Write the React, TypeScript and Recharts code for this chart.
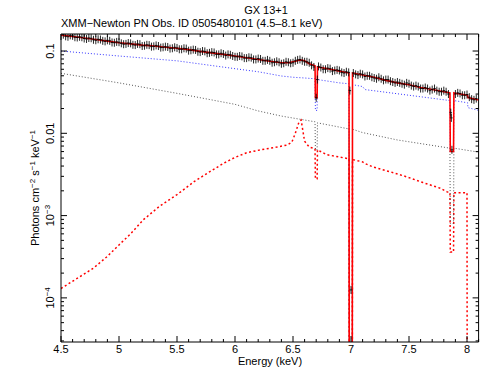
import React from "react";
import { ComposedChart, Line, Scatter, XAxis, YAxis } from "recharts";

const FONT = '"Liberation Sans", Arial, Helvetica, sans-serif';

const X_DOMAIN: [number, number] = [4.5, 8.1];
const Y_DOMAIN: [number, number] = [2.91e-5, 0.161];

// axis ticks
const xMajor = [4.5, 5, 5.5, 6, 6.5, 7, 7.5, 8];
const xLabels = ["4.5", "5", "5.5", "6", "6.5", "7", "7.5", "8"];
const xMinor = [
  4.6, 4.7, 4.8, 4.9, 5.1, 5.2, 5.3, 5.4, 5.6, 5.7, 5.8, 5.9, 6.1, 6.2, 6.3, 6.4,
  6.6, 6.7, 6.8, 6.9, 7.1, 7.2, 7.3, 7.4, 7.6, 7.7, 7.8, 7.9, 8.1,
];
const yMajor = [1e-4, 1e-3, 0.01, 0.1];
const yLabels = [["10", "−4"], ["10", "−3"], ["0.01"], ["0.1"]];
const yMinor = [
  3e-5, 4e-5, 5e-5, 6e-5, 7e-5, 8e-5, 9e-5,
  2e-4, 3e-4, 4e-4, 5e-4, 6e-4, 7e-4, 8e-4, 9e-4,
  2e-3, 3e-3, 4e-3, 5e-3, 6e-3, 7e-3, 8e-3, 9e-3,
  0.02, 0.03, 0.04, 0.05, 0.06, 0.07, 0.08, 0.09,
];

// measured spectrum (keV, photons cm^-2 s^-1 keV^-1)
const spectrum: [number, number][] = [
  [4.52, 0.158], [4.54, 0.151], [4.56, 0.149], [4.58, 0.155], [4.6, 0.153], [4.62, 0.147],
  [4.64, 0.146], [4.66, 0.149], [4.68, 0.147], [4.7, 0.142], [4.72, 0.14], [4.74, 0.144],
  [4.76, 0.143], [4.78, 0.137], [4.8, 0.135], [4.82, 0.139], [4.84, 0.138], [4.86, 0.133],
  [4.88, 0.131], [4.9, 0.135], [4.92, 0.133], [4.94, 0.127], [4.96, 0.126], [4.98, 0.129],
  [5.0, 0.128], [5.02, 0.124], [5.04, 0.121], [5.06, 0.122], [5.08, 0.125], [5.1, 0.124],
  [5.12, 0.119], [5.14, 0.118], [5.16, 0.122], [5.18, 0.121], [5.2, 0.115], [5.22, 0.116],
  [5.24, 0.119], [5.26, 0.118], [5.28, 0.113], [5.3, 0.114], [5.32, 0.117], [5.34, 0.115],
  [5.36, 0.11], [5.38, 0.111], [5.4, 0.113], [5.42, 0.112], [5.44, 0.107], [5.46, 0.108],
  [5.48, 0.111], [5.5, 0.109], [5.52, 0.105], [5.54, 0.105], [5.56, 0.108], [5.58, 0.107],
  [5.6, 0.101], [5.62, 0.102], [5.64, 0.104], [5.66, 0.103], [5.68, 0.098], [5.7, 0.097],
  [5.72, 0.1], [5.74, 0.099], [5.76, 0.094], [5.78, 0.095], [5.8, 0.097], [5.82, 0.096],
  [5.84, 0.091], [5.86, 0.091], [5.88, 0.094], [5.9, 0.092], [5.92, 0.088], [5.94, 0.091],
  [5.96, 0.09], [5.98, 0.087], [6.0, 0.085], [6.02, 0.085], [6.04, 0.087], [6.06, 0.086],
  [6.08, 0.082], [6.1, 0.082], [6.12, 0.084], [6.14, 0.083], [6.16, 0.079], [6.18, 0.079],
  [6.2, 0.081], [6.22, 0.08], [6.24, 0.076], [6.26, 0.076], [6.28, 0.078], [6.3, 0.076],
  [6.32, 0.072], [6.34, 0.073], [6.36, 0.075], [6.38, 0.073], [6.4, 0.07], [6.42, 0.071],
  [6.44, 0.074], [6.46, 0.073], [6.48, 0.071], [6.5, 0.072], [6.52, 0.076], [6.54, 0.078],
  [6.56, 0.079], [6.58, 0.076], [6.6, 0.074], [6.62, 0.074], [6.64, 0.072], [6.66, 0.067],
  [6.68, 0.064], [6.7, 0.027], [6.71, 0.045], [6.72, 0.065], [6.74, 0.063], [6.76, 0.06],
  [6.78, 0.06], [6.8, 0.062], [6.82, 0.061], [6.84, 0.057], [6.86, 0.058], [6.88, 0.059],
  [6.9, 0.058], [6.92, 0.055], [6.94, 0.054], [6.96, 0.056], [6.98, 0.055], [6.99, 0.033],
  [7.0, 1.25e-4], [7.02, 0.054], [7.04, 0.052], [7.06, 0.051], [7.08, 0.053], [7.1, 0.052],
  [7.12, 0.049], [7.14, 0.05], [7.16, 0.05], [7.18, 0.048], [7.2, 0.047], [7.22, 0.046],
  [7.24, 0.048], [7.26, 0.046], [7.28, 0.044], [7.3, 0.045], [7.32, 0.045], [7.34, 0.043],
  [7.36, 0.042], [7.38, 0.041], [7.4, 0.042], [7.42, 0.041], [7.44, 0.04], [7.46, 0.039],
  [7.48, 0.041], [7.5, 0.04], [7.52, 0.038], [7.54, 0.037], [7.56, 0.038], [7.58, 0.037],
  [7.6, 0.035], [7.62, 0.035], [7.64, 0.036], [7.66, 0.035], [7.68, 0.033], [7.7, 0.034],
  [7.72, 0.035], [7.74, 0.033], [7.76, 0.032], [7.78, 0.032], [7.8, 0.033], [7.82, 0.032],
  [7.84, 0.03], [7.86, 0.0178], [7.865, 0.0154], [7.87, 0.0063], [7.9, 0.03], [7.92, 0.031],
  [7.94, 0.0305], [7.96, 0.029], [7.98, 0.029], [8.0, 0.0296], [8.02, 0.0275], [8.04, 0.026],
  [8.06, 0.0255], [8.08, 0.0264],
];

// total model
const modelTotal: [number, number][] = [
  [4.5, 0.156], [4.6, 0.15], [4.7, 0.144], [4.8, 0.138], [4.9, 0.132], [5.0, 0.126],
  [5.1, 0.122], [5.2, 0.118], [5.3, 0.115], [5.4, 0.111], [5.5, 0.108], [5.6, 0.104],
  [5.7, 0.099], [5.8, 0.095], [5.9, 0.091], [6.0, 0.087], [6.1, 0.083], [6.2, 0.079],
  [6.3, 0.075], [6.4, 0.072], [6.46, 0.072], [6.52, 0.075], [6.56, 0.078], [6.6, 0.076],
  [6.64, 0.07], [6.69, 0.066], [6.693, 0.027], [6.708, 0.027], [6.711, 0.064], [6.8, 0.061],
  [6.9, 0.057], [6.983, 0.054], [6.986, 1e-7], [7.01, 1e-7], [7.013, 0.054], [7.1, 0.051],
  [7.2, 0.048], [7.3, 0.044], [7.4, 0.041], [7.5, 0.039], [7.6, 0.036], [7.7, 0.034],
  [7.8, 0.032], [7.853, 0.031], [7.856, 0.006], [7.884, 0.006], [7.887, 0.031], [7.9, 0.0306],
  [8.005, 0.029], [8.008, 0.0272], [8.1, 0.0254],
];

// model components
const compBlue: [number, number][] = [
  [4.5, 0.1], [5.0, 0.087], [5.5, 0.076], [6.0, 0.061], [6.2, 0.056], [6.4, 0.0497],
  [6.5, 0.048], [6.6, 0.047], [6.69, 0.046], [6.693, 0.019], [6.708, 0.019], [6.711, 0.045],
  [6.9, 0.041], [6.983, 0.04], [6.986, 1e-7], [7.01, 1e-7], [7.013, 0.039], [7.1, 0.037],
  [7.12, 0.034], [7.42, 0.03], [7.853, 0.025], [7.856, 0.006], [7.884, 0.006], [7.887, 0.025],
  [8.005, 0.0235], [8.008, 0.0205], [8.1, 0.019],
];

const compGrey: [number, number][] = [
  [4.5, 0.0536], [5.0, 0.041], [5.5, 0.0306], [6.0, 0.0225], [6.2, 0.0187], [6.4, 0.0162],
  [6.69, 0.0138], [6.693, 0.0063], [6.708, 0.0063], [6.711, 0.0134], [6.983, 0.0113],
  [6.986, 1e-7], [7.01, 1e-7], [7.013, 0.0112], [7.1, 0.0102], [7.4, 0.0083], [7.853, 0.0066],
  [7.856, 0.0008], [7.884, 0.0008], [7.887, 0.0066], [8.1, 0.0059],
];

const compRed: [number, number][] = [
  [4.5, 1.3e-4], [4.66, 1.8e-4], [4.78, 2.3e-4], [4.9, 3.2e-4], [5.0, 4.4e-4], [5.1, 6.0e-4],
  [5.21, 8.9e-4], [5.35, 1.3e-3], [5.5, 1.8e-3], [5.65, 2.6e-3], [5.78, 3.4e-3], [5.9, 4.3e-3],
  [6.0, 5.1e-3], [6.1, 5.8e-3], [6.22, 6.3e-3], [6.36, 6.8e-3], [6.45, 7.2e-3], [6.49, 7.8e-3],
  [6.52, 1.0e-2], [6.55, 1.35e-2], [6.57, 1.45e-2], [6.6, 8.0e-3], [6.64, 6.8e-3], [6.69, 6.5e-3],
  [6.693, 2.8e-3], [6.708, 2.8e-3], [6.711, 6.3e-3], [6.79, 5.5e-3], [6.983, 4.9e-3],
  [6.986, 1e-7], [7.01, 1e-7], [7.013, 4.8e-3], [7.1, 4.5e-3], [7.12, 4.3e-3], [7.19, 3.9e-3],
  [7.34, 3.4e-3], [7.48, 2.96e-3], [7.62, 2.52e-3], [7.77, 2.15e-3], [7.83, 1.94e-3],
  [7.853, 1.9e-3], [7.856, 3.6e-4], [7.884, 3.6e-4], [7.887, 1.9e-3], [8.0, 1.9e-3],
  [8.003, 1e-7], [8.1, 1e-7],
];

const toRows = (pts: [number, number][]) => pts.map(([e, f]) => ({ e, f }));

const xTicks = [...xMajor, ...xMinor];
const yTicks = [...yMajor, ...yMinor];

const near = (list: number[], v: number) =>
  list.findIndex((m) => Math.abs(m - v) / m < 1e-6);

const BottomTick = (p: any) => {
  const i = near(xMajor, p.payload.value);
  return (
    <g>
      <line x1={p.x} x2={p.x} y1={p.y} y2={p.y - (i >= 0 ? 6 : 3)} stroke="#000" />
      {i >= 0 && (
        <text x={p.x} y={p.y + 10.5} textAnchor="middle" fontSize={11} fontFamily={FONT} fill="#000">
          {xLabels[i]}
        </text>
      )}
    </g>
  );
};

const TopTick = (p: any) => {
  const major = near(xMajor, p.payload.value) >= 0;
  return <line x1={p.x} x2={p.x} y1={p.y} y2={p.y + (major ? 6 : 3)} stroke="#000" />;
};

const LeftTick = (p: any) => {
  const i = near(yMajor, p.payload.value);
  const lx = p.x - 7;
  return (
    <g>
      <line x1={p.x} x2={p.x + (i >= 0 ? 6 : 3)} y1={p.y} y2={p.y} stroke="#000" />
      {i >= 0 && (
        <text
          x={lx}
          y={p.y}
          transform={`rotate(-90, ${lx}, ${p.y})`}
          textAnchor="middle"
          fontSize={11}
          fontFamily={FONT}
          fill="#000"
        >
          {yLabels[i][0]}
          {yLabels[i][1] && (
            <tspan dy={-4} fontSize={8}>
              {yLabels[i][1]}
            </tspan>
          )}
        </text>
      )}
    </g>
  );
};

const RightTick = (p: any) => {
  const major = near(yMajor, p.payload.value) >= 0;
  return <line x1={p.x} x2={p.x - (major ? 6 : 3)} y1={p.y} y2={p.y} stroke="#000" />;
};

// data point: bin-width bar plus error bar
const Cross = (p: any) => {
  const { cx, cy } = p;
  if (cx == null || cy == null) return <g />;
  return (
    <g stroke="#000" strokeWidth={1} strokeOpacity={0.85}>
      <line x1={cx - 1.3} x2={cx + 1.3} y1={cy} y2={cy} />
      <line x1={cx} x2={cx} y1={cy - 4} y2={cy + 4} />
    </g>
  );
};

export default function App() {
  const axisLine = { stroke: "#000", strokeWidth: 1 };
  return (
    <div style={{ position: "absolute", left: 0, top: 0, width: 480, height: 368, background: "#fff" }}>
      <ComposedChart width={480} height={368} margin={{ top: 4, right: 0.4, bottom: 1, left: 1 }}>
        <XAxis
          xAxisId="b"
          type="number"
          dataKey="e"
          domain={X_DOMAIN}
          allowDataOverflow
          ticks={xTicks}
          interval={0}
          tickSize={0}
          tickMargin={0}
          height={25}
          axisLine={axisLine}
          tickLine={false}
          tick={(p: any) => <BottomTick {...p} />}
        />
        <XAxis
          xAxisId="t"
          orientation="top"
          type="number"
          dataKey="e"
          domain={X_DOMAIN}
          allowDataOverflow
          ticks={xTicks}
          interval={0}
          tickSize={0}
          tickMargin={0}
          height={30}
          axisLine={axisLine}
          tickLine={false}
          tick={(p: any) => <TopTick {...p} />}
        />
        <YAxis
          yAxisId="l"
          type="number"
          scale="log"
          domain={Y_DOMAIN}
          allowDataOverflow
          ticks={yTicks}
          interval={0}
          tickSize={0}
          tickMargin={0}
          width={60}
          axisLine={axisLine}
          tickLine={false}
          tick={(p: any) => <LeftTick {...p} />}
        />
        <YAxis
          yAxisId="r"
          orientation="right"
          type="number"
          scale="log"
          domain={Y_DOMAIN}
          allowDataOverflow
          ticks={yTicks}
          interval={0}
          tickSize={0}
          tickMargin={0}
          width={1}
          axisLine={axisLine}
          tickLine={false}
          tick={(p: any) => <RightTick {...p} />}
        />
        <Line
          xAxisId="b"
          yAxisId="l"
          data={toRows(compRed)}
          dataKey="f"
          stroke="#ff0000"
          strokeWidth={1.5}
          strokeDasharray="2 2.5"
          dot={false}
          isAnimationActive={false}
        />
        <Line
          xAxisId="b"
          yAxisId="l"
          data={toRows(compGrey)}
          dataKey="f"
          stroke="#555"
          strokeWidth={1}
          strokeDasharray="1 2"
          dot={false}
          isAnimationActive={false}
        />
        <Line
          xAxisId="b"
          yAxisId="l"
          data={toRows(compBlue)}
          dataKey="f"
          stroke="#3333ff"
          strokeWidth={1}
          strokeDasharray="1 2"
          dot={false}
          isAnimationActive={false}
        />
        <Scatter
          xAxisId="b"
          yAxisId="l"
          data={toRows(spectrum)}
          dataKey="f"
          shape={(p: any) => <Cross {...p} />}
          isAnimationActive={false}
        />
        <Line
          xAxisId="b"
          yAxisId="l"
          data={toRows(modelTotal)}
          dataKey="f"
          stroke="#ff0000"
          strokeWidth={1.6}
          dot={false}
          isAnimationActive={false}
        />
      </ComposedChart>
      <svg
        width={480}
        height={368}
        style={{ position: "absolute", left: 0, top: 0, pointerEvents: "none" }}
        fontFamily={FONT}
        fill="#000"
      >
        <text x={266} y={14} textAnchor="middle" fontSize={11}>GX 13+1</text>
        <text x={61} y={27} fontSize={11}>XMM−Newton PN Obs. ID 0505480101 (4.5–8.1 keV)</text>
        <text x={270} y={365} textAnchor="middle" fontSize={11}>Energy (keV)</text>
        <text x={39} y={188} transform="rotate(-90, 39, 188)" textAnchor="middle" fontSize={11}>
          Photons cm<tspan dy={-4} fontSize={8}>−2</tspan>
          <tspan dy={4}> s</tspan>
          <tspan dy={-4} fontSize={8}>−1</tspan>
          <tspan dy={4}> keV</tspan>
          <tspan dy={-4} fontSize={8}>−1</tspan>
        </text>
      </svg>
    </div>
  );
}
